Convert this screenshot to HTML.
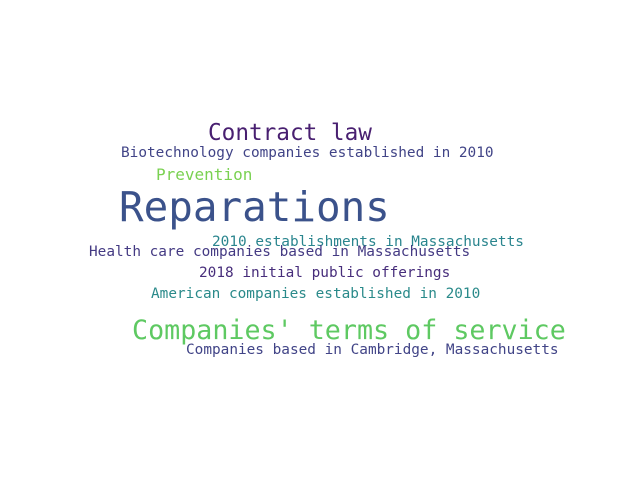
<!DOCTYPE html>
<html><head><meta charset="utf-8"><style>
html,body{margin:0;padding:0;background:#fff;}
svg{display:block;}
text{font-family:"DejaVu Sans Mono","Liberation Mono",monospace;}
</style></head><body>
<svg width="640" height="480" viewBox="0 0 640 480">
<rect width="640" height="480" fill="#fff"/>
<text x="208" y="140" font-size="22.7" fill="#481f70">Contract law</text>
<text x="121" y="157" font-size="14.4" fill="#414487">Biotechnology companies established in 2010</text>
<text x="156" y="180" font-size="16" fill="#7ad151">Prevention</text>
<text x="119" y="221" font-size="40.9" fill="#3b528b">Reparations</text>
<text x="212" y="246" font-size="14.4" fill="#2a858e">2010 establishments in Massachusetts</text>
<text x="89" y="256" font-size="14.4" fill="#443a83">Health care companies based in Massachusetts</text>
<text x="199" y="277" font-size="14.4" fill="#472d7b">2018 initial public offerings</text>
<text x="151" y="298" font-size="14.4" fill="#2a8a8a">American companies established in 2010</text>
<text x="132" y="339" font-size="26.7" fill="#5ec962">Companies' terms of service</text>
<text x="186" y="354" font-size="14.4" fill="#414487">Companies based in Cambridge, Massachusetts</text>
</svg>
</body></html>
